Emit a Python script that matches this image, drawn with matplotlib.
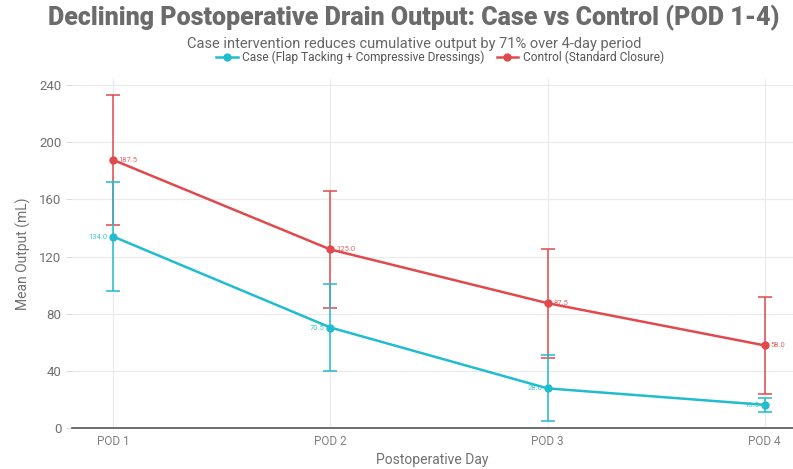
import matplotlib.pyplot as plt
from matplotlib.lines import Line2D

plt.rcParams['font.family'] = ['Roboto', 'DejaVu Sans']

days = ['POD 1', 'POD 2', 'POD 3', 'POD 4']
case_mean = [134.0, 70.5, 28.0, 16.5]
case_sd = [38.0, 30.5, 23.0, 5.0]
control_mean = [187.5, 125.0, 87.5, 58.0]
control_sd = [45.5, 41.0, 38.0, 34.0]

case_color = '#22bccf'
control_color = '#e04a4c'
grey = '#707070'

fig = plt.figure(figsize=(7.93, 4.69), dpi=100)
ax = fig.add_axes([0.0908, 0.0864, 0.9092, 0.745])

x = list(range(len(days)))

ax.errorbar(x, control_mean, yerr=control_sd, color=control_color, lw=1.8,
            marker='o', ms=5, capsize=5, elinewidth=1.1, capthick=1.1, zorder=3)
ax.errorbar(x, case_mean, yerr=case_sd, color=case_color, lw=1.8,
            marker='o', ms=5, capsize=5, elinewidth=1.1, capthick=1.1, zorder=3)

# Value labels beside the points
for xi, v in zip(x, case_mean):
    ax.annotate(f'{v:.1f}', (xi, v), xytext=(-4, 0), textcoords='offset points',
                ha='right', va='center', fontsize=5.5, color=case_color, alpha=0.85)
for xi, v in zip(x, control_mean):
    ax.annotate(f'{v:.1f}', (xi, v), xytext=(4, 0), textcoords='offset points',
                ha='left', va='center', fontsize=5.5, color=control_color, alpha=0.85)

ax.set_xlim(-0.19, 3.13)
ax.set_ylim(0, 244)
ax.set_xticks(x)
ax.set_xticklabels(days)
ax.set_yticks(range(0, 241, 40))

ax.grid(True, color='#ebebeb', lw=0.9)
ax.set_axisbelow(True)
for side in ['top', 'right', 'left']:
    ax.spines[side].set_visible(False)
ax.spines['bottom'].set_color('#555555')
ax.spines['bottom'].set_linewidth(1.2)
ax.tick_params(axis='y', colors='#dddddd', labelcolor=grey, labelsize=9.5, length=4)
ax.tick_params(axis='x', length=0, labelcolor='#808080', labelsize=8.5, pad=5)

ax.set_ylabel('Mean Output (mL)', fontsize=10, color=grey, labelpad=6)
fig.text(0.545, 1 - 460 / 469, 'Postoperative Day', ha='center', va='center',
         fontsize=10, color=grey)

fig.text(0.522, 0.962, 'Declining Postoperative Drain Output: Case vs Control (POD 1-4)',
         ha='center', va='center', fontsize=18, fontweight='black', color='#6b6b6b')
fig.text(0.522, 0.906, 'Case intervention reduces cumulative output by 71% over 4-day period',
         ha='center', va='center', fontsize=10.5, color='#666666')

handles = [Line2D([], [], color=case_color, lw=1.8, marker='o', ms=5),
           Line2D([], [], color=control_color, lw=1.8, marker='o', ms=5)]
labels = ['Case (Flap Tacking + Compressive Dressings)', 'Control (Standard Closure)']
fig.legend(handles, labels, loc='center', bbox_to_anchor=(0.555, 0.878),
           ncol=2, frameon=False, fontsize=8.6, labelcolor='#555555',
           handlelength=1.8, columnspacing=1.0, handletextpad=0.4)

fig.savefig('out.png', dpi=100)
